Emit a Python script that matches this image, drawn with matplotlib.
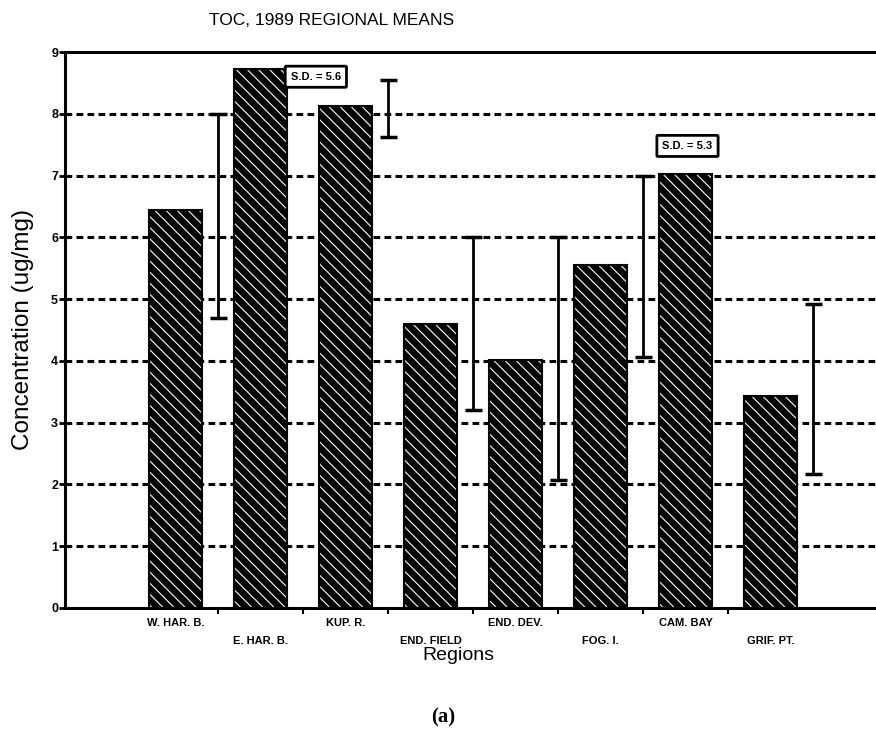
"""
Recreate the TOC 1989 regional means bar chart.
"""

import matplotlib.pyplot as plt

regions = ["W. HAR. B.", "E. HAR. B.", "KUP. R.", "END. FIELD",
           "END. DEV.", "FOG. I.", "CAM. BAY", "GRIF. PT."]
means = [6.45, 8.72, 8.12, 4.6, 4.01, 5.55, 7.02, 3.43]

# error ranges (low, high); None where an S.D. box is shown instead
err_low = [4.7, None, 7.62, 3.2, 2.07, 4.06, None, 2.17]
err_high = [8.0, None, 8.55, 6.0, 6.0, 7.0, None, 4.92]

sd_labels = {1: "S.D. = 5.6", 6: "S.D. = 5.3"}
sd_xpos = {1: 1.65, 6: 6.02}
sd_ypos = {1: 8.6, 6: 7.48}

plt.rcParams["font.family"] = ["Liberation Sans", "DejaVu Sans"]
plt.rcParams["hatch.linewidth"] = 0.8

fig = plt.figure(figsize=(8.76, 7.41), dpi=100)
ax = fig.add_axes([0.0742, 0.1795, 0.93, 0.7503])

x = list(range(len(regions)))
width = 0.62

# grid lines
for yv in range(1, 9):
    ax.axhline(yv, color="black", lw=2.2, ls=(0, (2.2, 1.4)), zorder=1)

ax.bar(x, means, width=width, color="black", edgecolor="white",
       hatch="\\\\\\", linewidth=0, zorder=2)
ax.bar(x, means, width=width, fill=False, edgecolor="black", linewidth=1.5, zorder=3)

for i in x:
    if err_low[i] is None:
        continue
    ax.vlines(i + 0.5, err_low[i], err_high[i], color="black", lw=2, zorder=4)
    for yv in (err_low[i], err_high[i]):
        ax.hlines(yv, i + 0.5 - 0.1, i + 0.5 + 0.1, color="black", lw=2.5, zorder=4)

for i, txt in sd_labels.items():
    ax.text(sd_xpos[i], sd_ypos[i], txt, ha="center", va="center",
            fontsize=8, fontweight="bold", zorder=5,
            bbox=dict(boxstyle="round,pad=0.5,rounding_size=0.1",
                      fc="white", ec="black", lw=2))

ax.set_xlim(-1.3, 8.28)
ax.set_ylim(0, 9)
ax.set_yticks(range(10))
ax.set_yticklabels([str(v) for v in range(10)], fontsize=9, fontweight="bold")
ax.set_xticks([i + 0.5 for i in range(7)])
ax.set_xticklabels([])
ax.tick_params(axis="y", direction="out", length=4, width=2, pad=1)
ax.tick_params(axis="x", direction="out", length=4, width=1.5)

for i, name in enumerate(regions):
    yoff = -0.25 if i % 2 == 0 else -0.53
    ax.text(i, yoff, name, ha="center", va="center", fontsize=8,
            fontweight="bold", clip_on=False)

ax.spines["right"].set_visible(False)
for side in ("left", "bottom", "top"):
    ax.spines[side].set_linewidth(2.2)

fig.text(0.026, 0.555, "Concentration (ug/mg)", rotation=90,
         ha="center", va="center", fontsize=17.5)
fig.text(0.523, 0.116, "Regions", ha="center", va="center", fontsize=14)
fig.text(0.378, 0.972, "TOC, 1989 REGIONAL MEANS", ha="center", va="center", fontsize=12.5)
fig.text(0.506, 0.032, "(a)", ha="center", va="center", fontsize=15,
         fontweight="bold", family="Liberation Serif")

fig.savefig("out.png", dpi=100)
